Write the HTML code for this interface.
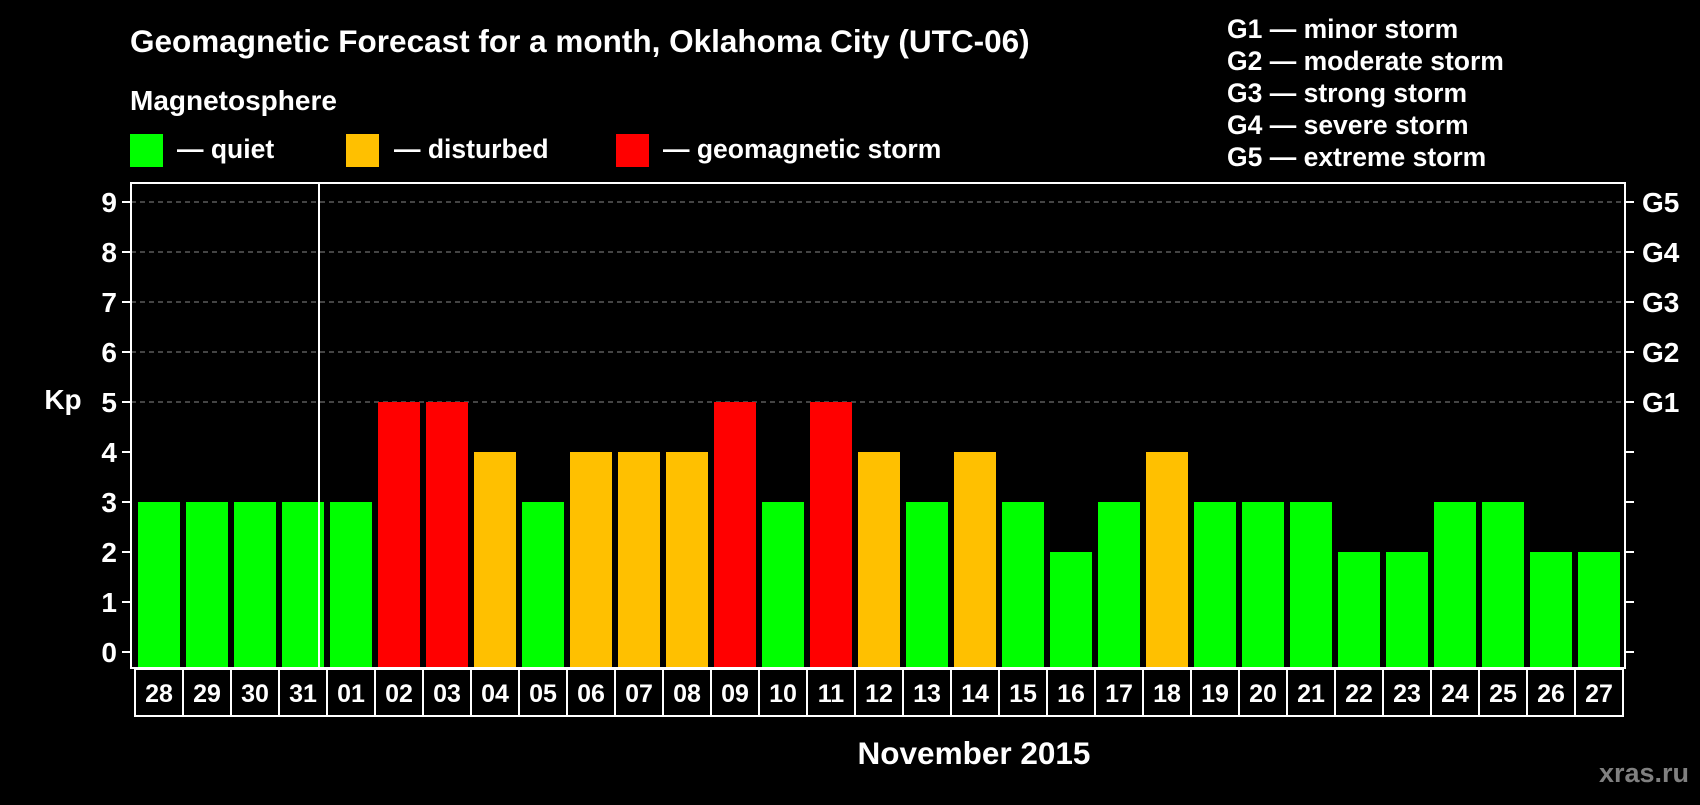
<!DOCTYPE html>
<html><head><meta charset="utf-8"><style>
body{margin:0;background:#000;width:1700px;height:800px;overflow:hidden;font-family:"Liberation Sans",Arial,sans-serif}
svg text{font-family:"Liberation Sans",Arial,sans-serif;font-weight:bold;fill:#fff}
</style></head><body>
<svg id="chart" width="1700" height="800" viewBox="0 0 1700 800">
<text x="130" y="52" font-size="31.5">Geomagnetic Forecast for a month, Oklahoma City (UTC-06)</text>
<text x="130" y="110" font-size="28">Magnetosphere</text>
<rect x="130" y="134" width="33" height="33" fill="#00ff00"/>
<text x="177" y="158" font-size="26.5">— quiet</text>
<rect x="346" y="134" width="33" height="33" fill="#ffc000"/>
<text x="394" y="158" font-size="26.5">— disturbed</text>
<rect x="616" y="134" width="33" height="33" fill="#ff0000"/>
<text x="663" y="158" font-size="26.5">— geomagnetic storm</text>
<g font-size="26.5">
<text x="1227" y="38">G1 — minor storm</text>
<text x="1227" y="70">G2 — moderate storm</text>
<text x="1227" y="102">G3 — strong storm</text>
<text x="1227" y="134">G4 — severe storm</text>
<text x="1227" y="166">G5 — extreme storm</text>
</g>
<text x="63" y="409" font-size="28" text-anchor="middle">Kp</text>
<text x="974" y="764" font-size="31.5" text-anchor="middle">November 2015</text>
<text x="1689" y="782" font-size="27" text-anchor="end" style="fill:#808080">xras.ru</text>
<g id="grid"></g><g id="bars"></g><g id="axes"></g>
</svg>
<script>
const days=["28","29","30","31","01","02","03","04","05","06","07","08","09","10","11","12","13","14","15","16","17","18","19","20","21","22","23","24","25","26","27"];
const kp=[3,3,3,3,3,5,5,4,3,4,4,4,5,3,5,4,3,4,3,2,3,4,3,3,3,2,2,3,3,2,2];
const yTicks=[0,1,2,3,4,5,6,7,8,9];
const gLabels=["G1","G2","G3","G4","G5"];
const NS="http://www.w3.org/2000/svg";
const X0=135,STEP=48,Y0=652,UNIT=50,L=131,R=1625,T=183,B=668;
const y=v=>Y0-v*UNIT, x=i=>X0+i*STEP;
function mk(t,a,p){const e=document.createElementNS(NS,t);for(const k in a)e.setAttribute(k,a[k]);p.appendChild(e);return e;}
const grid=document.getElementById('grid'),bars=document.getElementById('bars'),axes=document.getElementById('axes');
yTicks.forEach(v=>{
 if(v>=5){const g=mk('line',{x1:L,x2:R,y1:y(v),y2:y(v),stroke:'#888','stroke-dasharray':'5,4','stroke-width':1},grid);
 
 }
 const t=mk('line',{x1:L-9,x2:L,y1:y(v),y2:y(v),stroke:'#fff','stroke-width':2},axes);
 
 
 const t2=mk('line',{x1:R,x2:R+9,y1:y(v),y2:y(v),stroke:'#fff','stroke-width':2},axes);
 
 
 const lb=mk('text',{x:117,y:y(v)+10,'font-size':28,'text-anchor':'end'},axes);lb.textContent=v;
 
 
});
gLabels.forEach((g,i)=>{const lb=mk('text',{x:1642,y:y(i+5)+10,'font-size':28},axes);lb.textContent=g;
 
 });
kp.forEach((v,i)=>{
 const c=v>=5?'#ff0000':v==4?'#ffc000':'#00ff00';
 const r=mk('rect',{x:x(i)+3,y:y(v),width:42,height:B-y(v)-1,fill:c},bars);
 
 
});
const fr=mk('rect',{x:L,y:T,width:R-L,height:B-T,fill:'none',stroke:'#fff','stroke-width':2},axes);


const sep=mk('line',{x1:x(4)-8,x2:x(4)-8,y1:T,y2:B,stroke:'#fff','stroke-width':2},axes);


days.forEach((d,i)=>{
 const bx=mk('rect',{x:x(i),y:669,width:STEP,height:47,fill:'none',stroke:'#fff','stroke-width':2},axes);
 
 
 const t=mk('text',{x:x(i)+STEP/2,y:702,'font-size':25,'text-anchor':'middle'},axes);t.textContent=d;
 
 
});
</script>
</body></html>
